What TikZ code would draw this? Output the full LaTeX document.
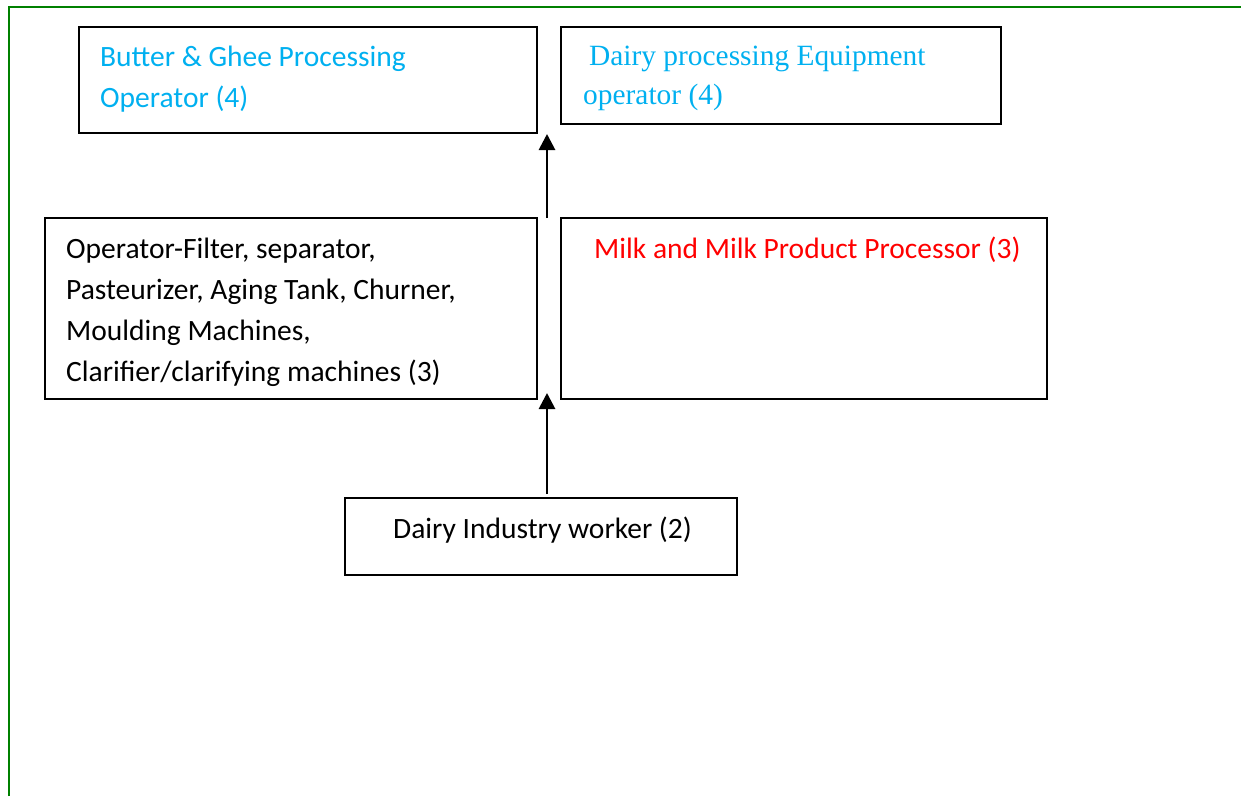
\documentclass[tikz,border=0pt]{standalone}
\usepackage{fontspec}
\setmainfont{Carlito}
\newfontfamily\timesfont{Liberation Serif}
\usetikzlibrary{arrows.meta}
\definecolor{frameGreen}{HTML}{008000}
\definecolor{lblue}{HTML}{00B0F0}
\definecolor{lred}{HTML}{FF0000}
\tikzset{
  boxnode/.style={draw=black, line width=2pt, inner sep=0pt, outer sep=0pt},
  txt/.style={anchor=base west, inner sep=0pt, align=left, font=\fontsize{29.5}{41}\selectfont},
  arr/.style={line width=2.8pt, -{Triangle[length=16pt,width=16pt]}}
}
\begin{document}
\begin{tikzpicture}[x=1pt,y=-1pt]
\useasboundingbox (0,0) rectangle (1241,796);
\fill[white] (0,0) rectangle (1241,796);
% green frame
\draw[frameGreen, line width=2.5pt] (9,796) -- (9,7) -- (1241,7);
% boxes
\node[boxnode, minimum width=458pt, minimum height=106pt] (A) at (308,80) {};
\node[boxnode, minimum width=440pt, minimum height=97pt] (B) at (781,75.5) {};
\node[boxnode, minimum width=492pt, minimum height=181pt] (C) at (291,308.5) {};
\node[boxnode, minimum width=486pt, minimum height=181pt] (D) at (804,308.5) {};
\node[boxnode, minimum width=392pt, minimum height=77pt] (E) at (541,536.5) {};
% texts
\node[txt, text=lblue] (tA) at (100,107) {Butter \& Ghee Processing\\Operator (4)};
\node[txt, text=lblue, font=\fontsize{29.4}{39}\selectfont\timesfont] (tB) at (583,104) {\hspace{6pt}Dairy processing Equipment\\operator (4)};
\node[txt] (tC) at (66,381) {Operator-Filter, separator,\\Pasteurizer, Aging Tank, Churner,\\Moulding Machines,\\Clarifier/clarifying machines (3)};
\node[txt, text=lred] (tD) at (594,258) {Milk and Milk Product Processor (3)};
\node[txt] (tE) at (393,538) {Dairy Industry worker (2)};
% arrows
\coordinate (ax) at (547,0);
\draw[arr] ([yshift=4pt]ax |- E.north) -- ([yshift=6pt]ax |- C.south);
\draw[arr] (ax |- C.north) -- ([yshift=-1pt]ax |- A.south);
\end{tikzpicture}
\end{document}
